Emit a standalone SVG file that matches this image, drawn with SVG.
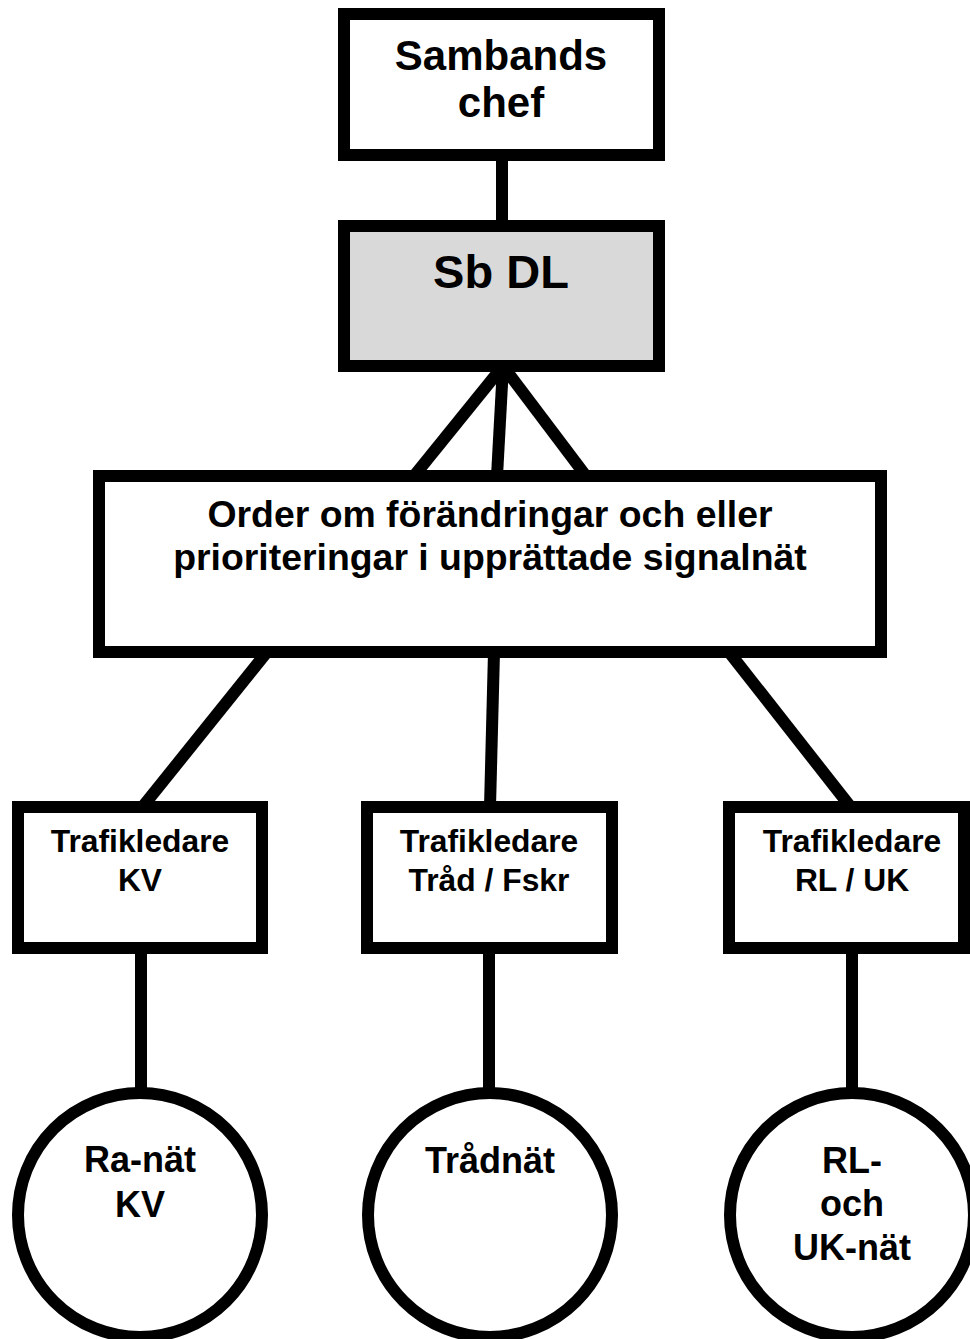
<svg xmlns="http://www.w3.org/2000/svg" width="970" height="1339" viewBox="0 0 970 1339">
<style>
.box{fill:#fff;stroke:#000;stroke-width:12}
.grey{fill:#d9d9d9}
.edge{stroke:#000;stroke-width:12;fill:none}
text{font-family:"Liberation Sans",Arial,sans-serif;font-weight:bold;fill:#000;text-anchor:middle}
</style>
<rect width="970" height="1339" fill="#fff"/>
<g id="connectors">
<line class="edge" x1="502" y1="155" x2="502" y2="226"/>
<line class="edge" x1="503" y1="366" x2="414" y2="476"/>
<line class="edge" x1="503" y1="366" x2="497" y2="476"/>
<line class="edge" x1="503" y1="366" x2="586" y2="476"/>
<line class="edge" x1="267" y1="652" x2="140" y2="810"/>
<line class="edge" x1="494" y1="652" x2="490" y2="807"/>
<line class="edge" x1="729" y1="652" x2="853" y2="810"/>
<line class="edge" x1="141" y1="948" x2="141" y2="1093"/>
<line class="edge" x1="489" y1="948" x2="489" y2="1093"/>
<line class="edge" x1="852" y1="948" x2="852" y2="1093"/>
</g>
<g id="sambandschef">
<rect class="box" x="344" y="14" width="315" height="141"/>
<text x="501" y="70" font-size="42">Sambands</text>
<text x="501" y="117" font-size="42">chef</text>
</g>
<g id="sbdl">
<rect class="box grey" x="344" y="226" width="315" height="140"/>
<text x="501" y="288" font-size="47">Sb DL</text>
</g>
<g id="order">
<rect class="box" x="99" y="476" width="782" height="176"/>
<text x="490" y="527" font-size="37.4">Order om förändringar och eller</text>
<text x="490" y="570" font-size="37.4">prioriteringar i upprättade signalnät</text>
</g>
<g id="tl-kv">
<rect class="box" x="18" y="807" width="244" height="141"/>
<text x="140" y="852" font-size="31.8">Trafikledare</text>
<text x="140" y="891" font-size="31.8">KV</text>
</g>
<g id="tl-trad">
<rect class="box" x="367" y="807" width="245" height="141"/>
<text x="489" y="852" font-size="31.8">Trafikledare</text>
<text x="489" y="891" font-size="31.8">Tråd / Fskr</text>
</g>
<g id="tl-rluk">
<rect class="box" x="729" y="807" width="235" height="141"/>
<text x="852" y="852" font-size="31.8">Trafikledare</text>
<text x="852" y="891" font-size="31.8">RL / UK</text>
</g>
<g id="ra-nat">
<circle class="box" cx="140" cy="1215" r="122"/>
<text x="140" y="1172" font-size="36">Ra-nät</text>
<text x="140" y="1217" font-size="36">KV</text>
</g>
<g id="tradnat">
<circle class="box" cx="490" cy="1215" r="122"/>
<text x="490" y="1173" font-size="36">Trådnät</text>
</g>
<g id="rl-uk-nat">
<circle class="box" cx="852" cy="1215" r="122"/>
<text x="852" y="1173" font-size="36">RL-</text>
<text x="852" y="1216" font-size="36">och</text>
<text x="852" y="1260" font-size="36">UK-nät</text>
</g>
</svg>
